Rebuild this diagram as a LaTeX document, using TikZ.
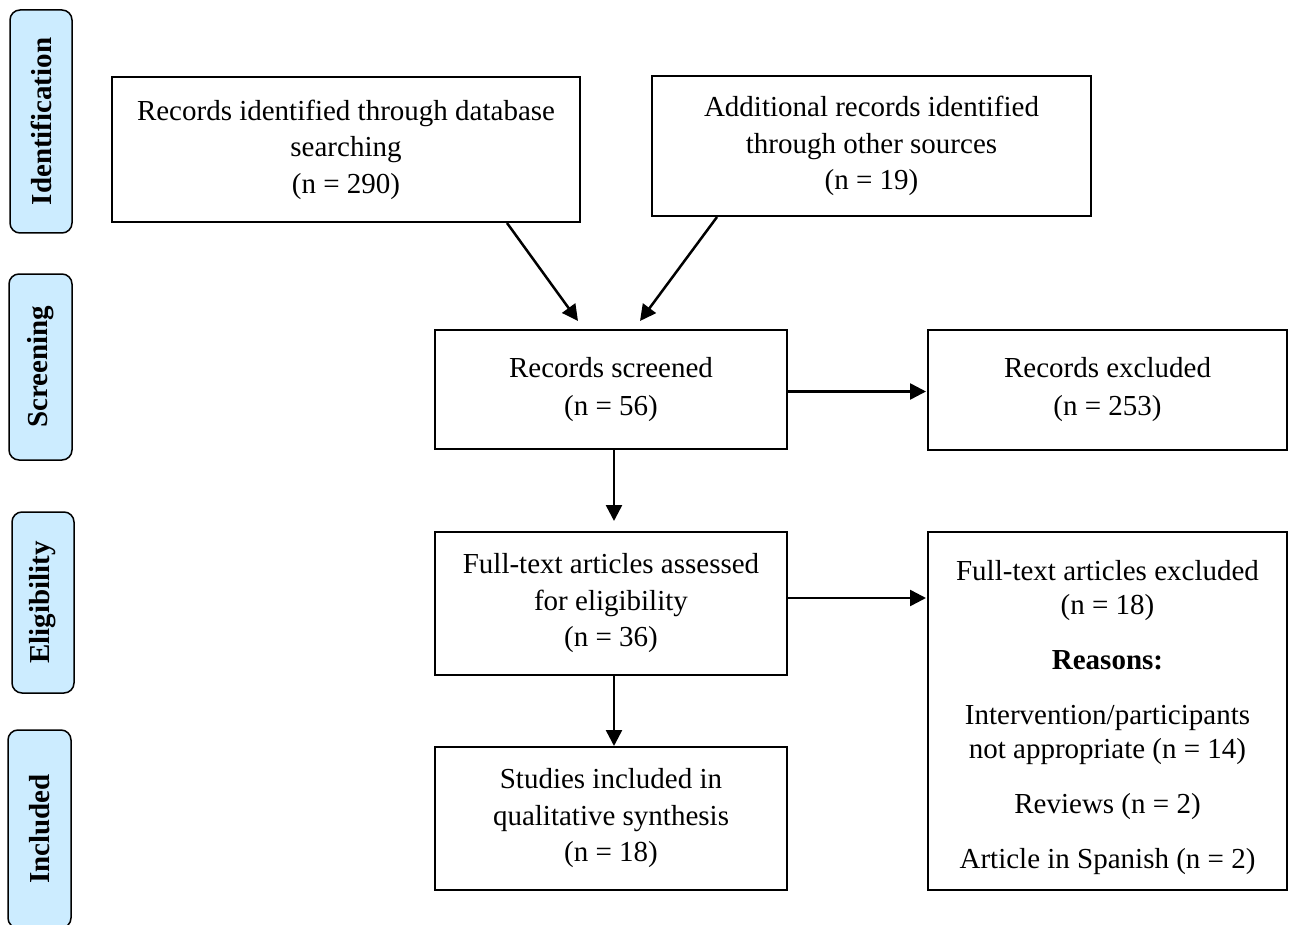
\documentclass[tikz,border=0pt]{standalone}
\usepackage{fontspec}
\setmainfont{Liberation Serif}
\usetikzlibrary{arrows.meta}
\definecolor{phasefill}{RGB}{204,236,255}
\tikzset{
  box/.style={draw, line width=2pt, rectangle, inner sep=0pt, align=center,
    font=\fontsize{29}{36.5}\selectfont},
  twoline/.style={font=\fontsize{29}{38}\selectfont},
  txt/.style={inner sep=0pt, align=center, font=\fontsize{29}{34}\selectfont},
  phase/.style={draw, line width=1.5pt, fill=phasefill, rounded corners=10pt,
    inner sep=0pt, rotate=90, font=\fontsize{29}{34}\selectfont\bfseries},
  arr/.style={line width=2.5pt, -{Triangle[length=16pt,width=16pt]}}
}
\begin{document}
\begin{tikzpicture}[x=1pt,y=-1pt]
\useasboundingbox (0,0) rectangle (1289,925);
% phase labels
\node[phase, minimum width=223pt, minimum height=62pt] (pid) at (41,121.5) {Identification};
\node[phase, minimum width=186pt, minimum height=63pt] (pscr) at (40.5,367) {Screening};
\node[phase, minimum width=181pt, minimum height=62pt] (pel) at (43,602.5) {Eligibility};
\node[phase, minimum width=198pt, minimum height=63pt] (pinc) at (39.5,829) {Included};
% boxes
\node[box, minimum width=468pt, minimum height=145pt] (db) at (346,149.5)
  {Records identified through database\\searching\\(n = 290)};
\node[box, minimum width=439pt, minimum height=140pt] (add) at (871.5,146)
  {Additional records identified\\through other sources\\(n = 19)};
\node[box, twoline, minimum width=352pt, minimum height=119pt] (scr) at (611,389.5)
  {Records screened\\(n = 56)};
\node[box, twoline, minimum width=359pt, minimum height=120pt] (exc1) at (1107.5,390)
  {Records excluded\\(n = 253)};
\node[box, minimum width=352pt, minimum height=143pt] (ft) at (611,603.5)
  {Full-text articles assessed\\for eligibility\\(n = 36)};
\node[box, minimum width=359pt, minimum height=358pt] (exc2) at (1107.5,711) {};
\node[txt] (exc2t) at ([yshift=-7pt]exc2.center)
  {Full-text articles excluded\\(n = 18)\\[21pt]\textbf{Reasons:}\\[21pt]Intervention/participants\\not appropriate (n = 14)\\[21pt]Reviews (n = 2)\\[21pt]Article in Spanish (n = 2)};
\node[box, minimum width=352pt, minimum height=143pt] (inc) at (611,818.5)
  {Studies included in\\qualitative synthesis\\(n = 18)};
% connectors
\coordinate (t1) at ([xshift=-33pt,yshift=8pt]scr.north);
\coordinate (t2) at ([xshift=29pt,yshift=8pt]scr.north);
\draw[arr] ([xshift=161pt]db.south) -- (t1);
\draw[arr] ([xshift=-154.5pt]add.south) -- (t2);
\draw[arr, shorten >=1pt] ([yshift=-2pt]scr.east) -- ([yshift=-2pt]scr.east -| exc1.west);
\draw[arr, shorten >=10pt] ([xshift=3pt]scr.south) -- ([xshift=3pt]ft.north);
\draw[arr, shorten >=1pt] ([yshift=5.5pt]ft.east) -- ([yshift=5.5pt]ft.east -| exc2.west);
\draw[arr] ([xshift=3pt]ft.south) -- ([xshift=3pt]inc.north);
\end{tikzpicture}
\end{document}
